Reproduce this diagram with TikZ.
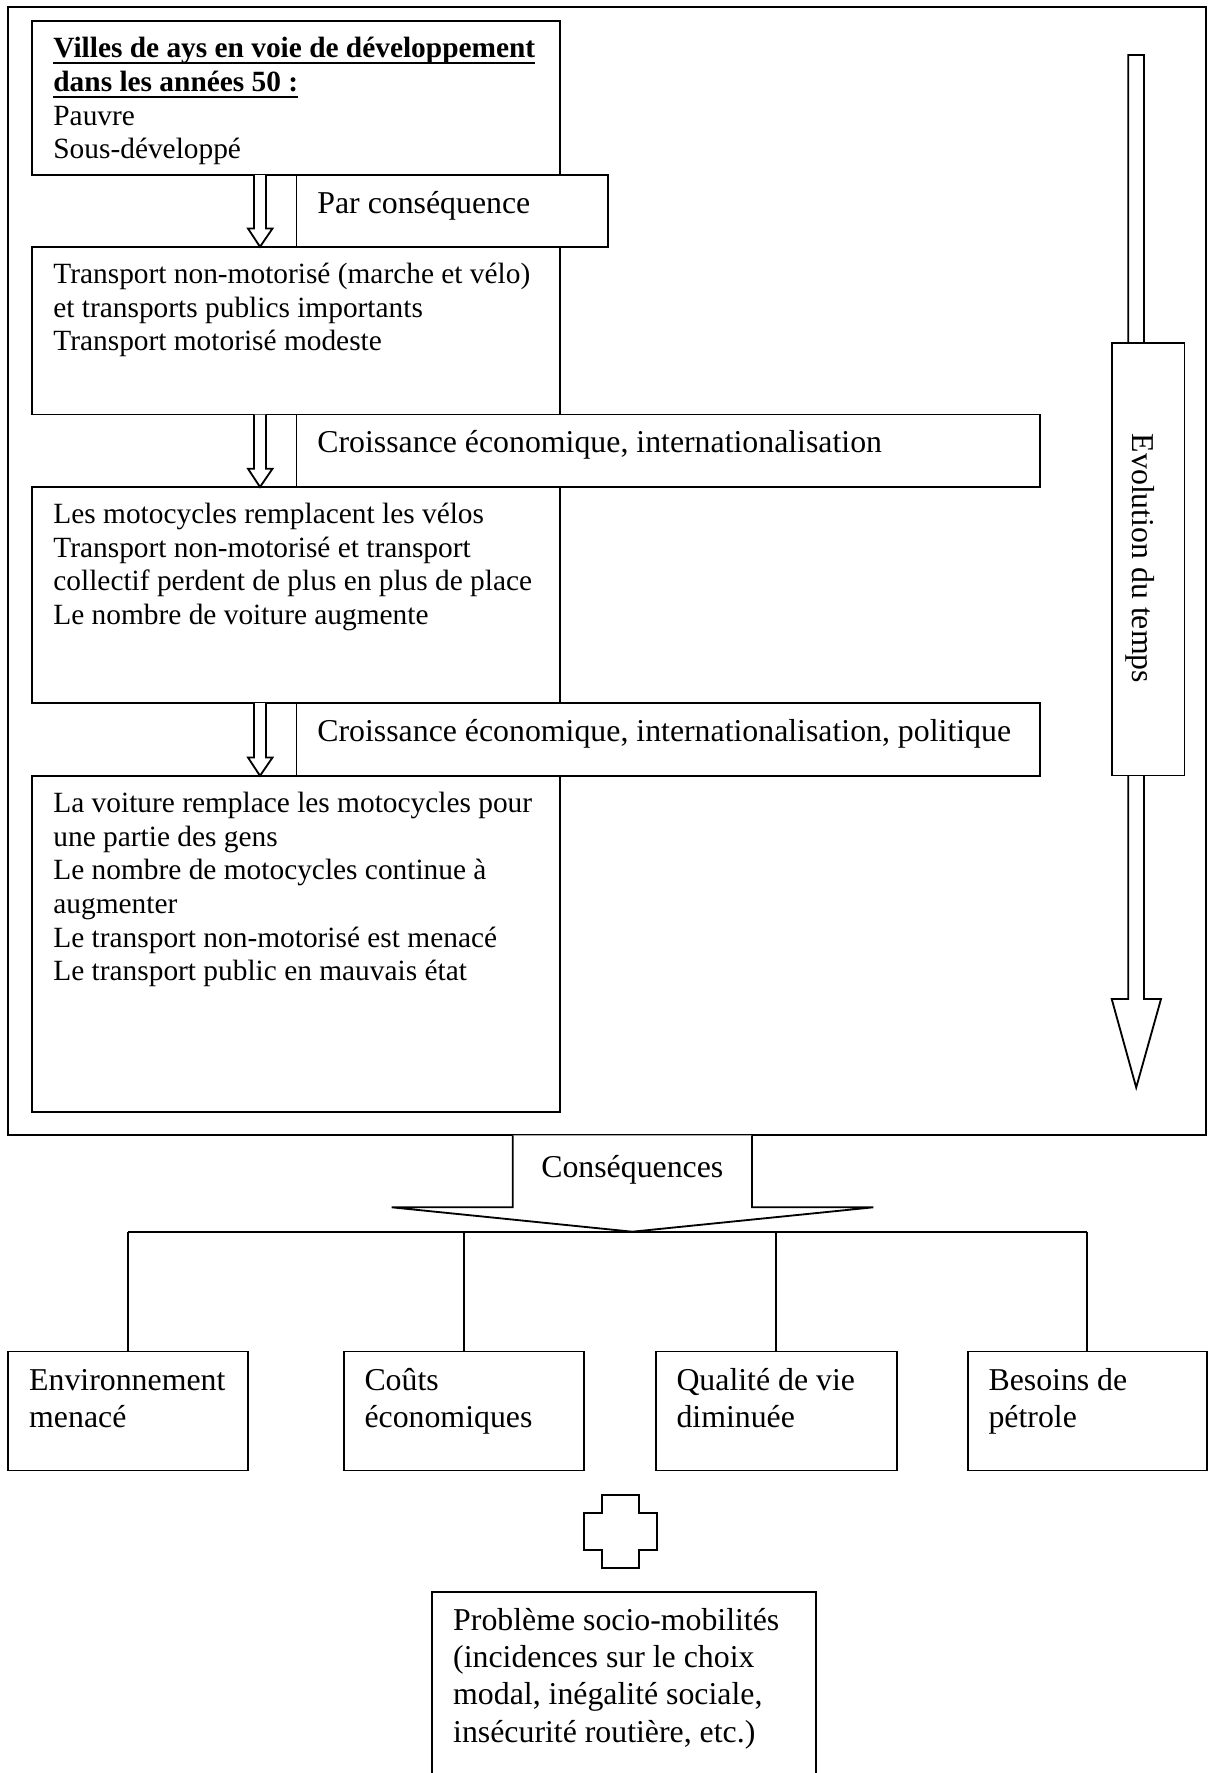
\documentclass[tikz,border=0pt]{standalone}
\usepackage{fontspec}
\setmainfont{Liberation Serif}
\usetikzlibrary{fit}
\newcommand\fsA{\fontsize{12}{13.77}\selectfont}
\newcommand\fsB{\fontsize{13}{15.28}\selectfont}
\newcommand\myul[1]{\setbox0=\hbox{#1}\rlap{\rule[-2.6pt]{\wd0}{0.8pt}}\box0}
\tikzset{
  box/.style={draw, fill=white, inner sep=0pt, line width=0.75pt},
  txtA/.style={inner sep=0pt, anchor=base west, font=\fsA},
  txtB/.style={inner sep=0pt, anchor=base west, font=\fsB},
  shapeline/.style={draw, fill=white, line width=0.75pt, line join=miter},
  conn/.style={draw, line width=0.75pt}
}
\begin{document}
\begin{tikzpicture}[x=0.4086pt, y=-0.4086pt, line width=0.75pt]
\fill[white] (0,0) rectangle (1208,1773);
\useasboundingbox (0,0) rectangle (1208,1773);

% outer frame
\node[box, fill=none, fit={(7.7,6.9) (1206,1135.3)}] (frame) {};

% evolution arrow
\path[shapeline] (1128.3,55) -- (1128.3,999) -- (1111.7,999) -- (1136.2,1087.5)
  -- (1161,999) -- (1144,999) -- (1144,55) -- cycle;
\node[box, fit={(1112.2,343.3) (1184.5,775.5)}] (evo) {};
\node[rotate=-90, anchor=base, inner sep=0pt, font=\fsB] (evot) at (1132,558.5) {Evolution du temps};

% main boxes
\node[box, fit={(32.3,21.3) (560,175)}] (b1) {};
\node[box, fit={(32.3,246.8) (560,414.5)}] (b2) {};
\node[box, fit={(32.3,487) (560,703)}] (b3) {};
\node[box, fit={(32.3,775.8) (560,1112)}] (b4) {};

% label boxes
\node[box, fit={(296.5,175) (608,246.8)}] (l1) {};
\node[box, fit={(296.5,414.5) (1040,487)}] (l2) {};
\node[box, fit={(296.5,703) (1040,775.8)}] (l3) {};

% small arrows
\foreach \ya/\yb in {175/246.8, 414.5/487, 703/775.8}{
  \path[shapeline] (254,\ya) -- (254,{\yb-18.3}) -- (248,{\yb-18.3}) -- (260,\yb)
    -- (272.5,{\yb-18.3}) -- (266,{\yb-18.3}) -- (266,\ya);
}

% texts in main boxes
\node[txtA] (t1) at (52.5,57.7) {\begin{tabular}[t]{@{}l@{}}
\myul{\textbf{Villes de ays en voie de développement}}\\
\myul{\textbf{dans les années 50 :}}\\
Pauvre\\
Sous-développé\end{tabular}};
\node[txtA] (t2) at (52.5,283.3) {\begin{tabular}[t]{@{}l@{}}
Transport non-motorisé (marche et vélo)\\
et transports publics importants\\
Transport motorisé modeste\end{tabular}};
\node[txtA] (t3) at (52.5,523.5) {\begin{tabular}[t]{@{}l@{}}
Les motocycles remplacent les vélos\\
Transport non-motorisé et transport\\
collectif perdent de plus en plus de place\\
Le nombre de voiture augmente\end{tabular}};
\node[txtA] (t4) at (52.5,812.3) {\begin{tabular}[t]{@{}l@{}}
La voiture remplace les motocycles pour\\
une partie des gens\\
Le nombre de motocycles continue à\\
augmenter\\
Le transport non-motorisé est menacé\\
Le transport public en mauvais état\end{tabular}};

% label texts
\node[txtB] (lt1) at (316.5,213.5) {Par conséquence};
\node[txtB] (lt2) at (316.5,452.5) {Croissance économique, internationalisation};
\node[txtB] (lt3) at (316.5,741.3) {Croissance économique, internationalisation, politique};

% consequences arrow
\path[shapeline] (512.7,1135.3) -- (512.7,1207.3) -- (391.7,1207.3) -- (632.3,1231.7)
  -- (873.3,1207.3) -- (752,1207.3) -- (752,1135.3);
\node[inner sep=0pt, anchor=base, font=\fsB] (cons) at (632.3,1177) {Conséquences};

% bottom boxes
\node[box, fit={(8.3,1351.5) (248.3,1470.5)}] (bA) {};
\node[box, fit={(343.6,1351.5) (584,1470.5)}] (bB) {};
\node[box, fit={(655.6,1351.5) (896.8,1470.5)}] (bC) {};
\node[box, fit={(967.6,1351.5) (1207,1470.5)}] (bD) {};

% tree connectors
\coordinate (hub) at (632.3,1231.7);
\draw[conn] (bA.north |- hub) -- (bD.north |- hub);
\draw[conn] (bA.north |- hub) -- (bA.north);
\draw[conn] (bB.north |- hub) -- (bB.north);
\draw[conn] (bC.north |- hub) -- (bC.north);
\draw[conn] (bD.north |- hub) -- (bD.north);

\node[txtB] (tA) at (28.3,1390.5) {\begin{tabular}[t]{@{}l@{}}Environnement\\menacé\end{tabular}};
\node[txtB] (tB) at (363.6,1390.5) {\begin{tabular}[t]{@{}l@{}}Coûts\\économiques\end{tabular}};
\node[txtB] (tC) at (675.6,1390.5) {\begin{tabular}[t]{@{}l@{}}Qualité de vie\\diminuée\end{tabular}};
\node[txtB] (tD) at (987.6,1390.5) {\begin{tabular}[t]{@{}l@{}}Besoins de\\pétrole\end{tabular}};

% plus sign
\path[shapeline] (602.3,1495) -- (638.7,1495) -- (638.7,1513.3) -- (656.7,1513.3)
  -- (656.7,1550) -- (638.7,1550) -- (638.7,1568.3) -- (602.3,1568.3)
  -- (602.3,1550) -- (584,1550) -- (584,1513.3) -- (602.3,1513.3) -- cycle;

% final box
\node[box, fit={(431.7,1591.7) (816,1800)}] (bF) {};
\node[txtB] (tF) at (452.3,1630) {\begin{tabular}[t]{@{}l@{}}
Problème socio-mobilités\\
(incidences sur le choix\\
modal, inégalité sociale,\\
insécurité routière, etc.)\end{tabular}};
\end{tikzpicture}
\end{document}
